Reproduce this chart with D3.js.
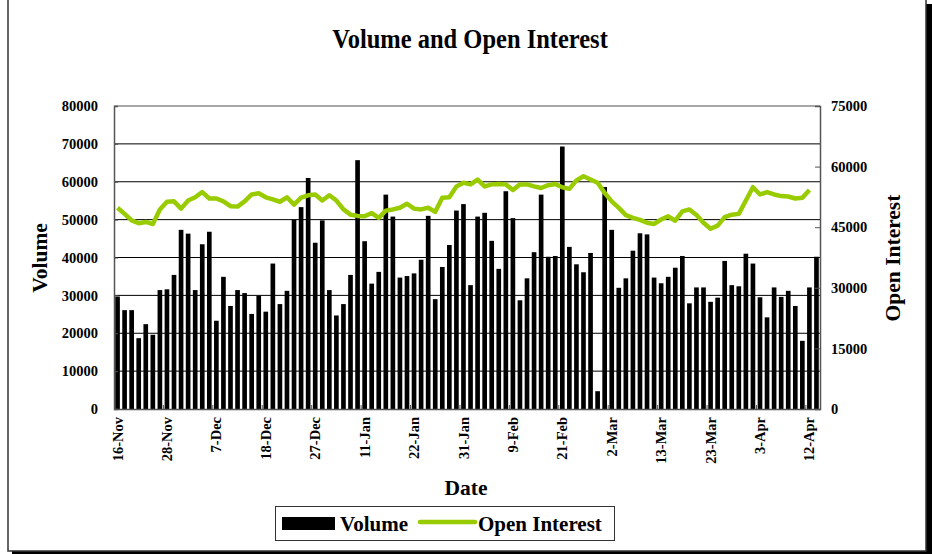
<!DOCTYPE html>
<html>
<head>
<meta charset="utf-8">
<script src="https://cdn.jsdelivr.net/npm/d3@7"></script>
<style>
  body { margin: 0; background: #fff; }
  text { font-family: "Liberation Serif", "Times New Roman", serif; font-weight: bold; fill: #000; }
</style>
</head>
<body>
<script>
// Trading days, 16-Nov through 16-Apr (one per bar)
const dates = [
  "16-Nov","17-Nov","20-Nov","21-Nov","22-Nov","24-Nov","27-Nov",
  "28-Nov","29-Nov","30-Nov","1-Dec","4-Dec","5-Dec","6-Dec",
  "7-Dec","8-Dec","11-Dec","12-Dec","13-Dec","14-Dec","15-Dec",
  "18-Dec","19-Dec","20-Dec","21-Dec","22-Dec","25-Dec","26-Dec",
  "27-Dec","28-Dec","29-Dec","2-Jan","3-Jan","4-Jan","10-Jan",
  "11-Jan","12-Jan","15-Jan","16-Jan","17-Jan","18-Jan","19-Jan",
  "22-Jan","23-Jan","24-Jan","25-Jan","26-Jan","29-Jan","30-Jan",
  "31-Jan","1-Feb","2-Feb","5-Feb","6-Feb","7-Feb","8-Feb",
  "9-Feb","12-Feb","13-Feb","14-Feb","15-Feb","16-Feb","20-Feb",
  "21-Feb","22-Feb","23-Feb","26-Feb","27-Feb","28-Feb","1-Mar",
  "2-Mar","5-Mar","6-Mar","7-Mar","8-Mar","9-Mar","12-Mar",
  "13-Mar","14-Mar","15-Mar","19-Mar","20-Mar","21-Mar","22-Mar",
  "23-Mar","26-Mar","27-Mar","28-Mar","29-Mar","30-Mar","2-Apr",
  "3-Apr","4-Apr","5-Apr","6-Apr","9-Apr","10-Apr","11-Apr",
  "12-Apr","16-Apr"
];

const volume = [
  29700, 26100, 26100, 18700, 22400, 19600, 31400, 31600, 35400, 47300,
  46300, 31400, 43500, 46800, 23300, 34900, 27200, 31400, 30600, 25100,
  29900, 25700, 38400, 27700, 31200, 50000, 53300, 61000, 43900, 49800,
  31400, 24700, 27700, 35400, 65700, 44300, 33100, 36200, 56600, 50800,
  34700, 35100, 35800, 39400, 51000, 29000, 37500, 43300, 52400, 54100,
  32700, 50800, 51800, 44400, 37000, 57500, 50400, 28700, 34500, 41400,
  56600, 40200, 40400, 69300, 42800, 38200, 36100, 41200, 4700, 58600,
  47300, 32000, 34500, 41800, 46400, 46100, 34700, 33200, 34900, 37300,
  40400, 27900, 32100, 32100, 28300, 29400, 39100, 32700, 32400, 41000,
  38400, 29500, 24200, 32100, 29600, 31200, 27200, 18000, 32100, 40200
];

// open interest, last day has no value
const openInterest = [
  49800, 48300, 46700, 46000, 46300, 45800, 49400, 51300, 51400, 49600,
  51600, 52400, 53700, 52100, 52100, 51400, 50200, 50100, 51400, 53100,
  53400, 52400, 51900, 51300, 52400, 50600, 52300, 52900, 53100, 51600,
  52900, 51600, 49400, 48100, 47800, 47700, 48500, 47300, 49100, 49400,
  49800, 50800, 49600, 49400, 49800, 48800, 52300, 52400, 55100, 56000,
  55600, 56800, 55100, 55600, 55700, 55600, 54200, 55600, 55600, 55100,
  54700, 55400, 55700, 54900, 54500, 56600, 57600, 56800, 56000, 53500,
  51400, 49800, 48000, 47300, 46800, 46100, 45800, 46900, 47700, 46600,
  48900, 49400, 48000, 46100, 44600, 45400, 47500, 48100, 48300, 51600,
  54900, 53100, 53700, 53100, 52700, 52600, 52100, 52300, 54200, null
];

const volTicks = [0, 10000, 20000, 30000, 40000, 50000, 60000, 70000, 80000];
const oiTicks = [0, 15000, 30000, 45000, 60000, 75000];

const W = 932, H = 554;
// plot area edges
const pL = 114, pR = 820, pT = 106, pB = 409;

var svg = d3.select("body").append("svg").attr("width", W).attr("height", H);

// outer frame with the drop shadow on right and bottom
svg.append("rect").attr("x", 12).attr("y", 4).attr("width", 920).attr("height", 550).attr("fill", "#000");
svg.append("rect").attr("x", 8).attr("y", -4).attr("width", 918).attr("height", 555)
  .attr("fill", "#fff").attr("stroke", "#333").attr("stroke-width", 1.5);

var x = d3.scaleBand().domain(dates).range([pL, pR]).paddingInner(0.34).paddingOuter(0.17);
var yL = d3.scaleLinear().domain([0, 80000]).range([pB, pT]);
var yR = d3.scaleLinear().domain([0, 75000]).range([pB, pT]);

// gridlines
svg.append("g").selectAll("line").data(volTicks.slice(1, -1)).join("line")
  .attr("x1", pL).attr("x2", pR)
  .attr("y1", d => yL(d)).attr("y2", d => yL(d))
  .attr("stroke", "#000").attr("stroke-width", 1);

// plot frame top
svg.append("line").attr("x1", pL).attr("x2", pR).attr("y1", pT).attr("y2", pT)
  .attr("stroke", "#888").attr("stroke-width", 1.5);

// bars
svg.append("g").selectAll("rect").data(volume).join("rect")
  .attr("x", (d, i) => x(dates[i]))
  .attr("width", x.bandwidth())
  .attr("y", d => yL(d))
  .attr("height", d => pB - yL(d))
  .attr("fill", "#000");

// open interest line
var line = d3.line()
  .defined(d => d != null)
  .x((d, i) => x(dates[i]) + x.bandwidth() / 2)
  .y(d => yR(d));

svg.append("path").datum(openInterest)
  .attr("d", line)
  .attr("fill", "none")
  .attr("stroke", "#99cc00")
  .attr("stroke-width", 4.5)
  .attr("stroke-linejoin", "round");

// axes
var axL = svg.append("g").attr("transform", `translate(${pL},0)`)
  .call(d3.axisLeft(yL).tickValues(volTicks).tickSize(-4).tickPadding(16).tickFormat(d3.format("d")));
var axR = svg.append("g").attr("transform", `translate(${pR},0)`)
  .call(d3.axisRight(yR).tickValues(oiTicks).tickSize(-5).tickPadding(11).tickFormat(d3.format("d")));
[axL, axR].forEach(a => {
  a.attr("font-family", null).attr("font-size", null);
  a.select(".domain").attr("stroke", "#555").attr("stroke-width", 1.5);
  a.selectAll(".tick line").attr("stroke", "#555");
  a.selectAll("text").style("font-size", "14.5px");
});

var ax = svg.append("g").attr("transform", `translate(0,${pB})`)
  .call(d3.axisBottom(x).tickValues(dates.filter((d, i) => i % 7 == 0)).tickSize(0).tickPadding(0));
ax.attr("font-family", null).attr("font-size", null);
ax.select(".domain").attr("stroke", "#555").attr("stroke-width", 1.5);
ax.selectAll("text")
  .style("font-size", "14.5px")
  .attr("transform", "rotate(-90)")
  .attr("text-anchor", "end")
  .attr("x", -8).attr("y", 0).attr("dy", "0.35em");

// small tick marks at every 7th category boundary
svg.append("g").selectAll("line").data(dates.filter((d, i) => i % 7 == 0 && i > 0)).join("line")
  .attr("x1", d => x(d) - x.step() * x.paddingInner() / 2)
  .attr("x2", d => x(d) - x.step() * x.paddingInner() / 2)
  .attr("y1", pB).attr("y2", pB - 4)
  .attr("stroke", "#555");

// titles
svg.append("text").attr("transform", "translate(470,48) scale(1,1.1)").attr("text-anchor", "middle")
  .style("font-size", "24.5px").text("Volume and Open Interest");
svg.append("text").attr("x", 466).attr("y", 495).attr("text-anchor", "middle")
  .style("font-size", "21.5px").text("Date");
svg.append("text").attr("transform", "translate(47,258) rotate(-90)").attr("text-anchor", "middle")
  .style("font-size", "21.5px").text("Volume");
svg.append("text").attr("transform", "translate(900,258) rotate(-90)").attr("text-anchor", "middle")
  .style("font-size", "21.5px").text("Open Interest");

// legend
var lg = svg.append("g");
lg.append("rect").attr("x", 275.5).attr("y", 506.5).attr("width", 339).attr("height", 34)
  .attr("fill", "#fff").attr("stroke", "#333").attr("stroke-width", 1);
lg.append("rect").attr("x", 282).attr("y", 517).attr("width", 53).attr("height", 13).attr("fill", "#000");
lg.append("text").attr("x", 340).attr("y", 531).style("font-size", "21px").text("Volume");
lg.append("line").attr("x1", 420).attr("x2", 475).attr("y1", 522).attr("y2", 522)
  .attr("stroke", "#99cc00").attr("stroke-width", 4.5).attr("stroke-linecap", "round");
lg.append("text").attr("x", 478).attr("y", 531).style("font-size", "21px").text("Open Interest");
</script>
</body>
</html>
